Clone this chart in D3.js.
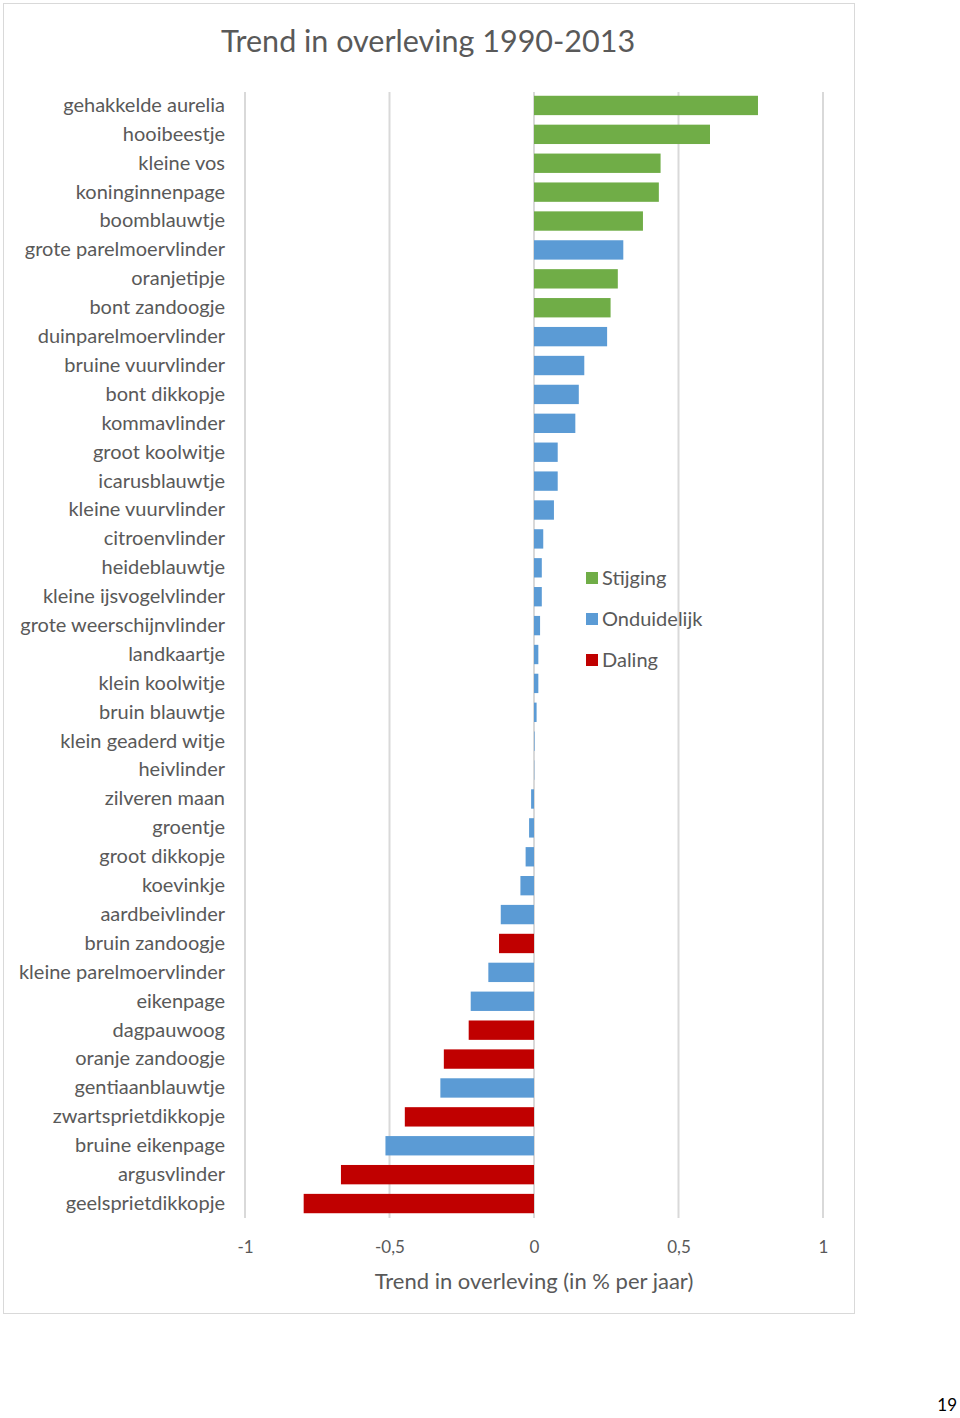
<!DOCTYPE html>
<html><head><meta charset="utf-8">
<script src="https://cdn.jsdelivr.net/npm/d3@7"></script>
<style>body{margin:0;background:#fff;} text{font-family:Lato,"Open Sans",sans-serif;}</style>
</head><body><svg id="c" width="960" height="1418"></svg>
<script>
const categories = ["gehakkelde aurelia","hooibeestje","kleine vos","koninginnenpage","boomblauwtje","grote parelmoervlinder","oranjetipje","bont zandoogje","duinparelmoervlinder","bruine vuurvlinder","bont dikkopje","kommavlinder","groot koolwitje","icarusblauwtje","kleine vuurvlinder","citroenvlinder","heideblauwtje","kleine ijsvogelvlinder","grote weerschijnvlinder","landkaartje","klein koolwitje","bruin blauwtje","klein geaderd witje","heivlinder","zilveren maan","groentje","groot dikkopje","koevinkje","aardbeivlinder","bruin zandoogje","kleine parelmoervlinder","eikenpage","dagpauwoog","oranje zandoogje","gentiaanblauwtje","zwartsprietdikkopje","bruine eikenpage","argusvlinder","geelsprietdikkopje"];
const values = [0.775,0.609,0.438,0.432,0.377,0.309,0.290,0.265,0.253,0.174,0.155,0.143,0.082,0.082,0.069,0.032,0.027,0.027,0.021,0.015,0.015,0.009,0.002,0.001,-0.010,-0.017,-0.029,-0.047,-0.115,-0.121,-0.158,-0.219,-0.226,-0.312,-0.324,-0.447,-0.514,-0.668,-0.797];
const trend = ["S","S","S","S","S","O","S","S","O","O","O","O","O","O","O","O","O","O","O","O","O","O","O","O","O","O","O","O","O","D","O","O","D","D","O","D","O","D","D"];
const legendKeys = ["S","O","D"];
const legendLabels = ["Stijging","Onduidelijk","Daling"];
const tickValues = [-1,-0.5,0,0.5,1];
const tickLabels = ["-1","-0,5","0","0,5","1"];

const colors = {S:"#70AD47",O:"#5B9BD5",D:"#C00000"};
const svg = d3.select("#c");
svg.append("rect").attr("x",3.5).attr("y",3.5).attr("width",851).attr("height",1310).attr("fill","#fff").attr("stroke","#D9D9D9");

const x = d3.scaleLinear().domain([-1,1]).range([245,823]);
const y = d3.scaleBand().domain(categories).range([91,1218]).paddingInner(0.33).paddingOuter(0.165);

svg.append("text").attr("x",428).attr("y",52).attr("text-anchor","middle").attr("font-size",30.5).attr("fill","#595959").text("Trend in overleving 1990-2013");

// gridlines
const grid = svg.append("g");
grid.selectAll("line").data(tickValues).join("line")
  .attr("x1",d=>x(d)).attr("x2",d=>x(d)).attr("y1",92).attr("y2",1218)
  .attr("stroke","#D9D9D9").attr("stroke-width",2);

// bars
svg.append("g").selectAll("rect").data(categories).join("rect")
  .attr("x",(d,i)=>Math.min(x(0),x(values[i])))
  .attr("width",(d,i)=>Math.abs(x(values[i])-x(0)))
  .attr("y",d=>y(d)).attr("height",y.bandwidth())
  .attr("fill",(d,i)=>colors[trend[i]]);

// category labels
const yAxis = d3.axisLeft(y).tickSize(0).tickPadding(0);
const ya = svg.append("g").attr("transform","translate(225,0)").call(yAxis);
ya.select(".domain").remove();
ya.selectAll("text").attr("font-size",20).attr("fill","#595959").attr("font-family","Lato,sans-serif").attr("dy","0.32em");

// x axis
const xAxis = d3.axisBottom(x).tickValues(tickValues).tickFormat((d,i)=>tickLabels[i]).tickSize(0).tickPadding(0);
const xa = svg.append("g").attr("transform","translate(0,1253)").call(xAxis);
xa.select(".domain").remove();
xa.selectAll("text").attr("font-size",17).attr("fill","#595959").attr("font-family","Lato,sans-serif").attr("dy","0");

svg.append("text").attr("x",534).attr("y",1289).attr("text-anchor","middle").attr("font-size",22).attr("fill","#595959").text("Trend in overleving (in % per jaar)");

// legend
const lg = svg.append("g").selectAll("g").data(legendKeys).join("g")
  .attr("transform",(d,i)=>`translate(586,${572+i*41})`);
lg.append("rect").attr("width",12).attr("height",12).attr("fill",d=>colors[d]);
lg.append("text").attr("x",16).attr("y",13).attr("font-size",20).attr("fill","#595959").text((d,i)=>legendLabels[i]);

svg.append("text").attr("x",957).attr("y",1411).attr("text-anchor","end").attr("font-size",17).attr("fill","#000").text("19");
</script></body></html>
